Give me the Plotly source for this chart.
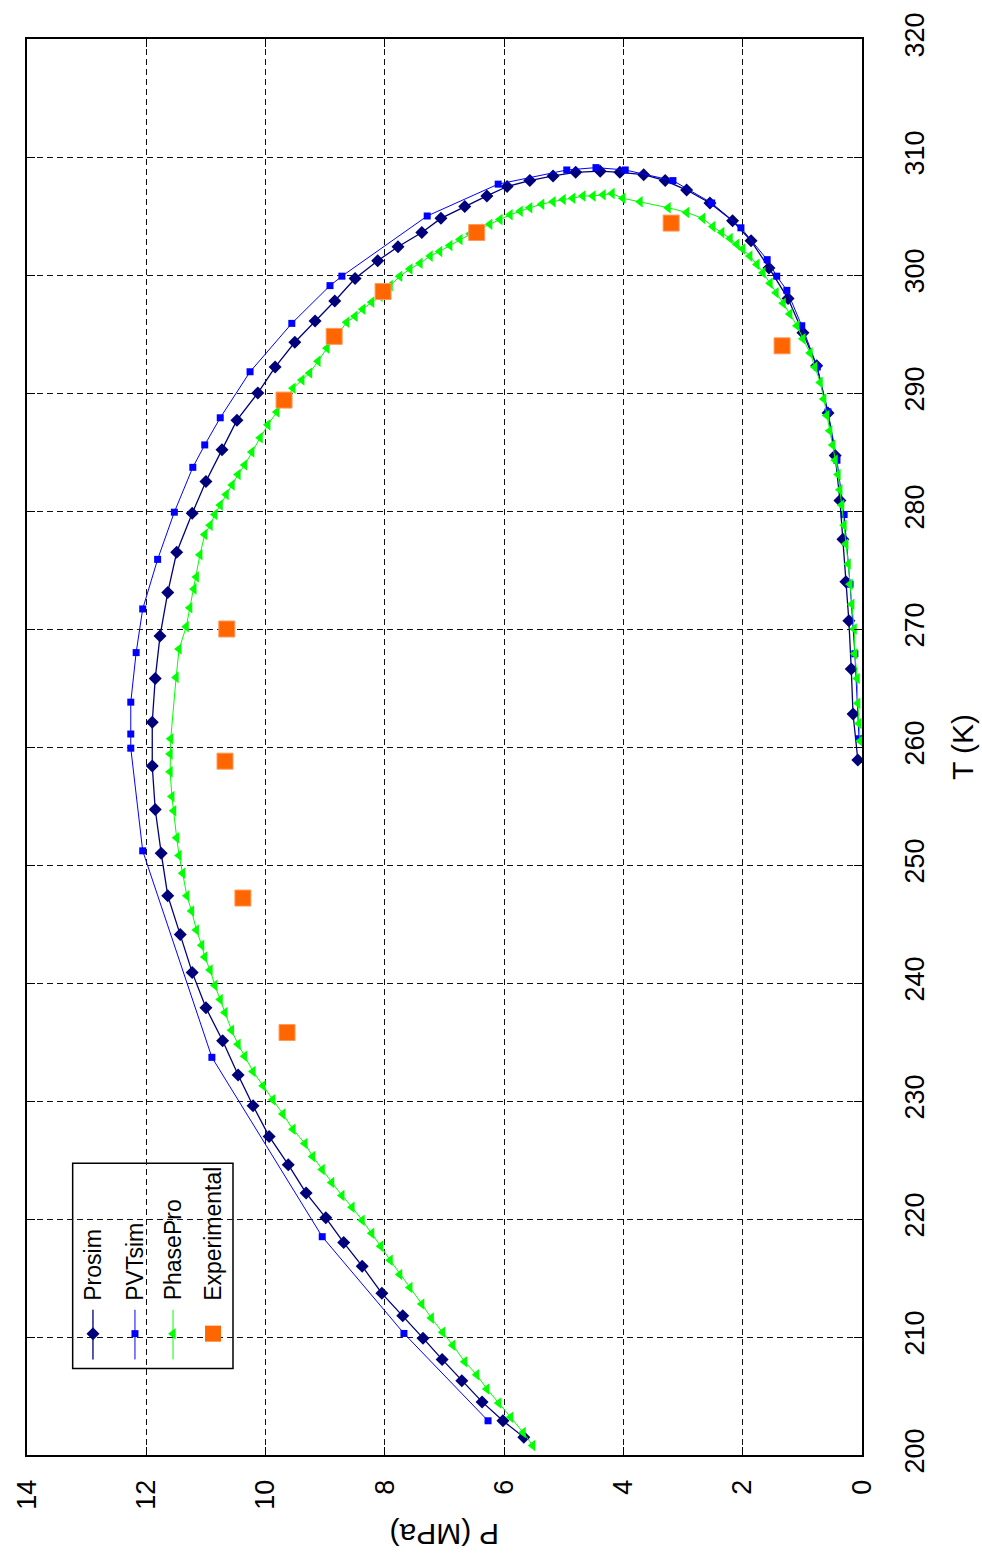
import plotly.graph_objects as go

# ---------------- data (T in K, P in MPa) ----------------
prosim_T = [201.5, 202.9, 204.5, 206.3, 208.1, 209.9, 211.8, 213.7, 216.0, 218.0, 220.1, 222.2,
            224.6, 227.0, 229.6, 232.2, 235.1, 237.9, 240.9, 244.1, 247.4, 251.0, 254.7, 258.4,
            262.1, 265.8, 269.4, 273.1, 276.5, 279.8, 282.5, 285.2, 287.7, 290.0, 292.2, 294.3,
            296.1, 297.8, 299.7, 301.2, 302.4, 303.6, 304.8, 305.8, 306.7, 307.5, 308.0, 308.4,
            308.7, 308.8, 308.7, 308.5, 308.0, 307.2, 306.1, 304.6, 302.9, 300.6, 298.0, 295.1,
            292.3, 288.3, 284.7, 280.9, 277.6, 274.0, 270.7, 266.6, 262.8, 258.9]
prosim_P = [5.67, 6.02, 6.37, 6.71, 7.04, 7.36, 7.70, 8.05, 8.38, 8.69, 8.99, 9.32,
            9.62, 9.94, 10.21, 10.46, 10.72, 11.00, 11.23, 11.43, 11.64, 11.75, 11.85, 11.90,
            11.90, 11.85, 11.77, 11.64, 11.49, 11.23, 11.00, 10.73, 10.48, 10.13, 9.84, 9.51,
            9.17, 8.84, 8.50, 8.12, 7.78, 7.38, 7.06, 6.66, 6.29, 5.95, 5.57, 5.18,
            4.80, 4.39, 4.06, 3.66, 3.30, 2.94, 2.55, 2.17, 1.86, 1.56, 1.24, 0.99,
            0.76, 0.57, 0.45, 0.37, 0.32, 0.27, 0.22, 0.18, 0.15, 0.07]

pvtsim_T = [202.9, 210.3, 218.5, 233.7, 251.2, 259.9, 261.1, 263.8, 268.0, 271.7, 275.9, 279.9,
            283.7, 285.6, 287.9, 291.8, 295.9, 299.1, 299.9, 305.0, 307.7, 308.9, 309.1, 308.9,
            308.0, 306.1, 304.0, 301.3, 299.9, 298.7, 295.7, 292.2, 288.4, 284.3, 279.7, 273.8,
            267.9, 260.7]
pvtsim_P = [6.27, 7.68, 9.05, 10.90, 12.06, 12.26, 12.26, 12.26, 12.17, 12.06, 11.81, 11.53,
            11.22, 11.02, 10.76, 10.26, 9.56, 8.92, 8.72, 7.29, 6.10, 4.95, 4.46, 3.97,
            3.17, 2.52, 2.03, 1.59, 1.43, 1.26, 1.01, 0.75, 0.57, 0.42, 0.30, 0.20,
            0.12, 0.05]

phasepro_T = [200.8, 201.9, 203.2, 204.4, 205.6, 206.8, 207.9, 209.3, 210.4, 211.6, 212.8, 214.2,
              215.3, 216.5, 217.7, 218.8, 219.9, 221.0, 222.0, 223.1, 224.2, 225.3, 226.4, 227.6,
              228.9, 230.1, 231.3, 232.5, 233.8, 234.8, 236.0, 237.5, 238.6, 239.8, 241.1, 242.2,
              243.2, 244.5, 246.1, 247.4, 249.3, 250.8, 252.3, 254.6, 255.8, 257.9, 259.4, 260.7,
              265.9, 268.3, 270.2, 271.8, 273.4, 274.4, 276.3,
              278.0, 278.8, 279.7, 280.5, 281.4, 282.2, 283.1, 283.9, 285.0, 286.2, 287.3, 288.4,
              289.4, 290.4, 291.1, 291.7, 292.7, 293.8, 294.9, 296.0, 296.5, 297.1, 297.7, 298.2,
              299.1, 299.9, 300.5, 301.0, 301.6, 302.0, 302.5, 303.0, 303.5, 303.9, 304.3, 304.7,
              305.1, 305.4, 305.7, 306.0, 306.2, 306.4, 306.5, 306.7, 306.7, 306.8, 306.9,
              306.5, 306.2, 305.7, 305.3, 304.8, 304.1,
              303.6, 303.1, 302.6, 302.2, 301.6, 300.9, 300.2, 299.3, 298.5, 297.6, 296.7, 295.7,
              294.6, 293.4, 292.2, 290.9, 289.5, 288.1, 286.8, 285.6, 284.3, 283.1, 281.8, 280.5,
              278.8, 277.2, 275.5, 273.8, 272.1, 270.0, 267.9, 265.8, 263.7, 262.0, 260.5]
phasepro_P = [5.52, 5.68, 5.89, 6.09, 6.29, 6.46, 6.66, 6.86, 7.03, 7.22, 7.38, 7.58,
              7.75, 7.91, 8.07, 8.22, 8.38, 8.55, 8.72, 8.89, 9.05, 9.21, 9.34, 9.54,
              9.71, 9.88, 10.04, 10.21, 10.35, 10.46, 10.57, 10.68, 10.76, 10.85, 10.93, 11.02,
              11.07, 11.16, 11.24, 11.32, 11.39, 11.45, 11.49, 11.54, 11.57, 11.60, 11.60, 11.59,
              11.50, 11.45, 11.33, 11.27, 11.20, 11.16, 11.10,
              11.02, 10.93, 10.85, 10.76, 10.66, 10.56, 10.46, 10.35, 10.23, 10.09, 9.96, 9.81,
              9.67, 9.54, 9.39, 9.26, 9.12, 8.97, 8.80, 8.64, 8.50, 8.37, 8.22, 8.08,
              7.91, 7.75, 7.58, 7.41, 7.24, 7.08, 6.91, 6.74, 6.57, 6.41, 6.24, 6.07,
              5.90, 5.73, 5.57, 5.37, 5.18, 5.01, 4.85, 4.68, 4.51, 4.34, 4.19,
              4.01, 3.72, 3.25, 2.94, 2.67, 2.50,
              2.35, 2.21, 2.10, 2.00, 1.88, 1.76, 1.66, 1.54, 1.44, 1.32, 1.21, 1.09,
              0.99, 0.87, 0.79, 0.70, 0.64, 0.59, 0.54, 0.49, 0.45, 0.40, 0.37, 0.34,
              0.30, 0.27, 0.23, 0.20, 0.17, 0.13, 0.12, 0.08, 0.07, 0.05, 0.03]

exp_T = [270.0, 258.8, 247.2, 235.8, 289.4, 294.8, 298.6, 303.6, 304.4, 294.0]
exp_P = [10.65, 10.68, 10.38, 9.64, 9.69, 8.85, 8.03, 6.46, 3.20, 1.34]

series_names = ["Prosim", "PVTsim", "PhasePro", "Experimental"]
P_ticks = [0, 2, 4, 6, 8, 10, 12, 14]
T_ticks = [200, 210, 220, 230, 240, 250, 260, 270, 280, 290, 300, 310, 320]

# ---------------- style ----------------
FONT = "Liberation Sans, Arial, sans-serif"
C_PROSIM = "#00007A"
C_PVT = "#0000FF"
C_PHASE = "#00FF00"
C_EXP = "#FF6600"

fig = go.Figure()
fig.add_trace(go.Scatter(x=prosim_P, y=prosim_T, mode="lines+markers", name=series_names[0],
                         line=dict(color=C_PROSIM, width=1.3),
                         marker=dict(symbol="diamond", size=10, color=C_PROSIM)))
fig.add_trace(go.Scatter(x=pvtsim_P, y=pvtsim_T, mode="lines+markers", name=series_names[1],
                         line=dict(color=C_PVT, width=1),
                         marker=dict(symbol="square", size=7, color=C_PVT)))
fig.add_trace(go.Scatter(x=phasepro_P, y=phasepro_T, mode="lines+markers", name=series_names[2],
                         line=dict(color=C_PHASE, width=1),
                         marker=dict(symbol="triangle-left", size=10, color=C_PHASE)))
fig.add_trace(go.Scatter(x=exp_P, y=exp_T, mode="markers", name=series_names[3],
                         marker=dict(symbol="square", size=16, color=C_EXP,
                                     line=dict(color="#FF9A5A", width=1))))

# ---------------- custom (rotated) legend ----------------
leg_x = [0.079, 0.1293, 0.1749, 0.2228]
leg_marker_y = 0.0857
leg_colors = [C_PROSIM, C_PVT, C_PHASE, C_EXP]
leg_symbols = ["diamond", "square", "triangle-left", "square"]
leg_sizes = [10, 7, 10, 16]
shapes = [dict(type="rect", xref="paper", yref="paper", x0=0.0547, x1=0.2467, y0=0.0611, y1=0.2061,
               line=dict(color="black", width=1.5), fillcolor="white", layer="between")]
for i in range(3):
    shapes.append(dict(type="line", xref="paper", yref="paper", x0=leg_x[i], x1=leg_x[i],
                       y0=0.0675, y1=0.1026,
                       line=dict(color=leg_colors[i], width=1.3 if i == 0 else 1),
                       layer="between"))
fig.add_trace(go.Scatter(x=leg_x, y=[leg_marker_y] * 4, xaxis="x2", yaxis="y2", mode="markers",
                         showlegend=False, hoverinfo="skip", opacity=1,
                         marker=dict(symbol=leg_symbols, size=leg_sizes, color=leg_colors,
                                     opacity=1, line=dict(width=0))))

annotations = []
for i, name in enumerate(series_names):
    annotations.append(dict(text=name, x=leg_x[i], y=0.1075, xref="paper", yref="paper",
                            xanchor="center", yanchor="bottom", textangle=-90, showarrow=False,
                            font=dict(family=FONT, size=23, color="black")))
annotations.append(dict(text="P (MPa)", x=0.5, y=-0.0562, xref="paper", yref="paper",
                        xanchor="center", yanchor="middle", textangle=180, showarrow=False,
                        font=dict(family=FONT, size=30, color="black")))
annotations.append(dict(text="T (K)", x=1.1198, y=0.5, xref="paper", yref="paper",
                        xanchor="center", yanchor="middle", textangle=-90, showarrow=False,
                        font=dict(family=FONT, size=30, color="black")))

axis_common = dict(ticks="inside", ticklen=8, tickcolor="black", tickwidth=1.3,
                   showline=True, linecolor="black", linewidth=2, mirror="allticks",
                   showgrid=True, gridcolor="#111111", gridwidth=1.3, griddash="6px,4px",
                   zeroline=False, tickangle=-90,
                   tickfont=dict(family=FONT, size=27, color="black"))

fig.update_layout(
    width=982, height=1562,
    margin=dict(l=27, r=120, t=32, b=107),
    plot_bgcolor="white", paper_bgcolor="white",
    showlegend=False,
    font=dict(family=FONT, color="black"),
    xaxis=dict(range=[14, 0], tickvals=P_ticks, ticklabelstandoff=12, **axis_common),
    yaxis=dict(range=[200, 320], tickvals=T_ticks, side="right", ticklabelstandoff=28, **axis_common),
    xaxis2=dict(domain=[0, 1], range=[0, 1], overlaying="x", anchor="y2", visible=False),
    yaxis2=dict(domain=[0, 1], range=[0, 1], overlaying="y", anchor="x2", visible=False),
    shapes=shapes,
    annotations=annotations,
)

fig.write_html("out.html")
